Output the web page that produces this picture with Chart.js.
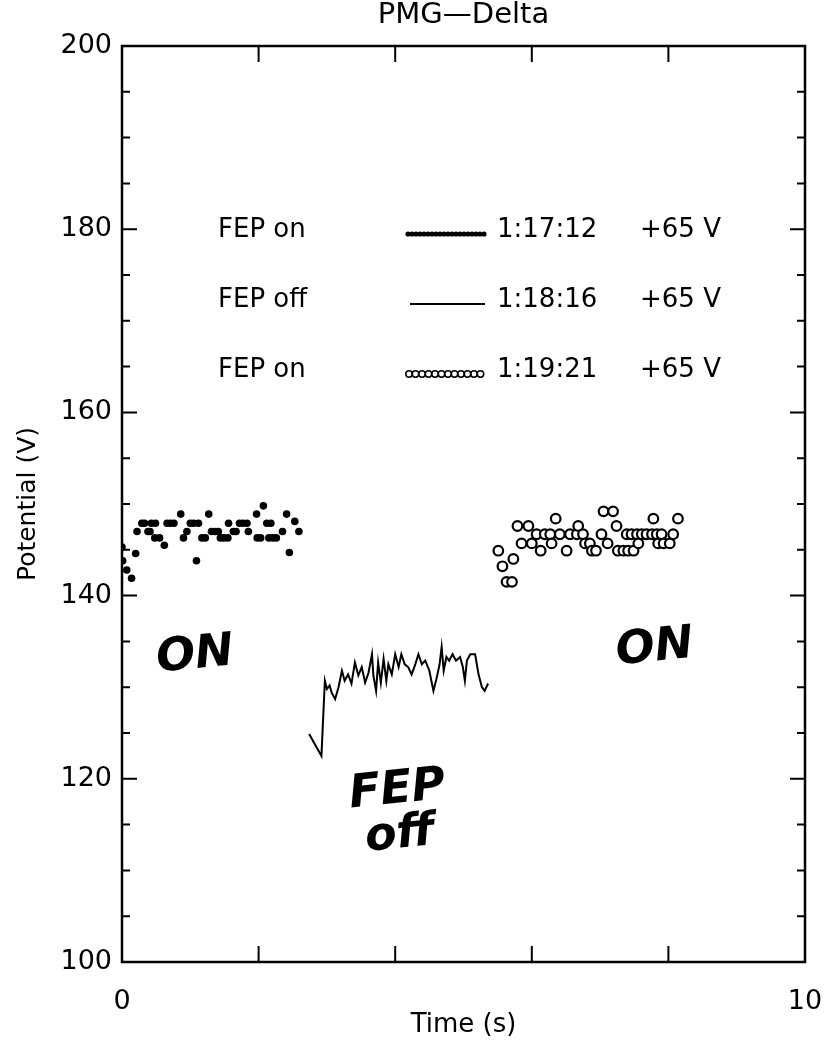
<!DOCTYPE html>
<html>
<head>
<meta charset="utf-8">
<script src="https://cdn.jsdelivr.net/npm/chart.js@4"></script>
<style>
  html, body { margin: 0; padding: 0; background: #fff; }
  canvas { display: block; }
</style>
</head>
<body>
<canvas id="pmgChart" width="825" height="1047"></canvas>
<script>
// FEP on 1:17:12 (filled dots)
const onTimeA = [0.00, 0.01, 0.07, 0.14, 0.20, 0.22, 0.29, 0.33, 0.38, 0.41, 0.43, 0.49, 0.48, 0.55, 0.62,
  0.66, 0.71, 0.76, 0.86, 0.90, 0.95, 1.00, 1.05, 1.12, 1.09, 1.17, 1.22, 1.27, 1.31, 1.36, 1.41,
  1.44, 1.49, 1.55, 1.56, 1.63, 1.67, 1.72, 1.77, 1.83, 1.85, 1.97, 1.98, 2.03, 2.07, 2.12, 2.18,
  2.15, 2.21, 2.26, 2.35, 2.41, 2.45, 2.53, 2.59];
const onVoltA = [145.3, 143.8, 142.8, 141.9, 144.6, 147.0, 147.9, 147.9, 147.0, 147.0, 147.9, 147.9, 146.3, 146.3, 145.5,
  147.9, 147.9, 147.9, 148.9, 146.3, 147.0, 147.9, 147.9, 147.9, 143.8, 146.3, 146.3, 148.9, 147.0, 147.0, 147.0,
  146.3, 146.3, 146.3, 147.9, 147.0, 147.0, 147.9, 147.9, 147.9, 147.0, 148.9, 146.3, 146.3, 149.8, 147.9, 147.9,
  146.3, 146.3, 146.3, 147.0, 148.9, 144.7, 148.1, 147.0];

// FEP off 1:18:16 (line)
const offTime = [2.74, 2.92, 2.97, 3.00, 3.04, 3.07, 3.12, 3.17, 3.22, 3.26, 3.31, 3.36, 3.41, 3.46, 3.51,
  3.56, 3.61, 3.66, 3.68, 3.72, 3.75, 3.79, 3.83, 3.87, 3.90, 3.95, 4.00, 4.05, 4.09, 4.14, 4.19,
  4.24, 4.29, 4.34, 4.39, 4.44, 4.50, 4.56, 4.61, 4.65, 4.68, 4.71, 4.75, 4.79, 4.84, 4.89, 4.95,
  4.99, 5.02, 5.05, 5.10, 5.17, 5.22, 5.27, 5.31, 5.36];
const offVolt = [124.9, 122.5, 130.7, 129.8, 130.2, 129.4, 128.7, 130.0, 131.8, 130.7, 131.4, 130.4, 132.7, 131.3, 132.2,
  130.5, 131.6, 133.6, 131.3, 129.6, 132.7, 130.5, 133.1, 130.7, 132.5, 131.4, 133.6, 132.2, 133.6, 132.5, 132.2,
  131.4, 132.4, 133.6, 132.5, 132.9, 131.8, 129.6, 131.1, 132.5, 134.4, 131.8, 133.3, 132.9, 133.6, 132.9, 133.3,
  132.2, 130.7, 132.9, 133.6, 133.6, 131.4, 130.0, 129.6, 130.4];

// FEP on 1:19:21 (open circles)
const onTimeB = [5.51, 5.57, 5.63, 5.71, 5.73, 5.79, 5.85, 5.95, 6.00, 6.07, 6.13, 6.19, 6.27, 6.29, 6.35,
  6.41, 6.51, 6.56, 6.66, 6.68, 6.75, 6.78, 6.85, 6.88, 6.94, 7.02, 7.05, 7.11, 7.19, 7.24, 7.26,
  7.34, 7.39, 7.41, 7.46, 7.49, 7.54, 7.56, 7.61, 7.68, 7.76, 7.78, 7.83, 7.85, 7.90, 7.93, 8.02,
  8.07, 8.14];
const onVoltB = [144.9, 143.2, 141.5, 141.5, 144.0, 147.6, 145.7, 147.6, 145.7, 146.7, 144.9, 146.7, 146.7, 145.7, 148.4,
  146.7, 144.9, 146.7, 146.7, 147.6, 146.7, 145.7, 145.7, 144.9, 144.9, 146.7, 149.2, 145.7, 149.2, 147.6, 144.9,
  144.9, 146.7, 144.9, 146.7, 144.9, 146.7, 145.7, 146.7, 146.7, 146.7, 148.4, 146.7, 145.7, 146.7, 145.7, 145.7,
  146.7, 148.4];

const xTicks = [0, 2, 4, 6, 8, 10];
const xTickLabels = ['0', '', '', '', '', '10'];
const yTicks = [100, 120, 140, 160, 180, 200];

const legendNames = ['FEP on', 'FEP off', 'FEP on'];
const legendTimes = ['1:17:12', '1:18:16', '1:19:21'];
const legendVolts = ['+65 V', '+65 V', '+65 V'];

// handwritten notes on the scan
const noteText = ['ON', 'FEP', 'off', 'ON'];
const noteAt = [[1.07, 133.4], [4.03, 118.7], [4.07, 113.8], [7.8, 134.2]];

const FONT = '"DejaVu Sans", "Liberation Sans", sans-serif';

const toPoints = (xs, ys) => xs.map((x, i) => ({ x: x, y: ys[i] }));

const frameTicks = {
  id: 'frameTicks',
  afterDatasetsDraw(chart) {
    const { ctx, chartArea: a, scales } = chart;
    ctx.save();
    ctx.strokeStyle = '#000';
    ctx.lineWidth = 2.5;
    ctx.strokeRect(a.left, a.top, a.right - a.left, a.bottom - a.top);
    ctx.lineWidth = 2;
    ctx.beginPath();
    xTicks.slice(1, -1).forEach(t => {
      const px = scales.x.getPixelForValue(t);
      ctx.moveTo(px, a.top); ctx.lineTo(px, a.top + 16);
      ctx.moveTo(px, a.bottom); ctx.lineTo(px, a.bottom - 16);
    });
    for (let v = 105; v < 200; v += 5) {
      const py = scales.y.getPixelForValue(v);
      const len = v % 20 === 0 ? 15 : 8;
      ctx.moveTo(a.left, py); ctx.lineTo(a.left + len, py);
      ctx.moveTo(a.right, py); ctx.lineTo(a.right - len, py);
    }
    ctx.stroke();
    ctx.restore();
  }
};

const textBits = {
  id: 'textBits',
  afterDraw(chart) {
    const { ctx, chartArea: a, scales } = chart;
    ctx.save();
    ctx.fillStyle = '#000';
    ctx.strokeStyle = '#000';

    // title
    ctx.font = '29px ' + FONT;
    ctx.textAlign = 'center';
    ctx.textBaseline = 'middle';
    ctx.fillText('PMG\u2014Delta', (a.left + a.right) / 2, 15);

    // legend block
    ctx.font = '26px ' + FONT;
    ctx.textAlign = 'left';
    const rowY = [a.top + 184, a.top + 254, a.top + 324];
    legendNames.forEach((name, i) => {
      const y = rowY[i];
      ctx.fillText(name, 218, y);
      ctx.fillText(legendTimes[i], 497, y);
      ctx.fillText(legendVolts[i], 640, y);
      const ly = y + 4;
      if (i === 0) {
        for (let x = 408; x <= 484; x += 4) {
          ctx.beginPath(); ctx.arc(x, ly, 2.6, 0, Math.PI * 2); ctx.fill();
        }
      } else if (i === 1) {
        ctx.lineWidth = 1.8;
        ctx.beginPath(); ctx.moveTo(410, ly); ctx.lineTo(485, ly); ctx.stroke();
      } else {
        ctx.lineWidth = 1.5;
        for (let x = 409; x <= 483; x += 6.5) {
          ctx.beginPath(); ctx.arc(x, ly, 3.2, 0, Math.PI * 2); ctx.stroke();
        }
      }
    });

    // handwritten notes
    ctx.font = 'bold italic 46px "DejaVu Sans", sans-serif';
    ctx.textAlign = 'center';
    noteText.forEach((t, i) => {
      const px = scales.x.getPixelForValue(noteAt[i][0]);
      const py = scales.y.getPixelForValue(noteAt[i][1]);
      ctx.save();
      ctx.translate(px, py);
      ctx.rotate(-0.1);
      ctx.fillText(t, 0, 0);
      ctx.restore();
    });
    ctx.restore();
  }
};

new Chart(document.getElementById('pmgChart').getContext('2d'), {
  type: 'scatter',
  data: {
    datasets: [
      {
        label: 'FEP on 1:17:12',
        data: toPoints(onTimeA, onVoltA),
        showLine: false,
        pointStyle: 'circle',
        pointRadius: 3.8,
        backgroundColor: '#000',
        borderColor: '#000',
        borderWidth: 0
      },
      {
        label: 'FEP off 1:18:16',
        data: toPoints(offTime, offVolt),
        showLine: true,
        pointRadius: 0,
        borderColor: '#000',
        borderWidth: 2,
        tension: 0
      },
      {
        label: 'FEP on 1:19:21',
        data: toPoints(onTimeB, onVoltB),
        showLine: false,
        pointStyle: 'circle',
        pointRadius: 4.8,
        backgroundColor: '#fff',
        borderColor: '#000',
        borderWidth: 2.2
      }
    ]
  },
  options: {
    responsive: false,
    animation: false,
    layout: { padding: { top: 46, left: 10, right: 0, bottom: 4 } },
    plugins: {
      legend: { display: false },
      tooltip: { enabled: false },
      title: { display: false }
    },
    scales: {
      x: {
        type: 'linear',
        min: 0,
        max: 10,
        afterFit(s) {
          s.height = 81;
          // keep the plot frame at the same right edge as the scan
          s.paddingLeft = 0;
          s.paddingRight = 20;
        },
        grid: { display: false, drawTicks: false, tickLength: 0 },
        border: { display: false },
        ticks: {
          stepSize: 2,
          autoSkip: false,
          maxRotation: 0,
          padding: 24,
          color: '#000',
          font: { family: FONT, size: 27 },
          callback: (v) => xTickLabels[xTicks.indexOf(v)] ?? ''
        },
        title: {
          display: true,
          text: 'Time (s)',
          color: '#000',
          font: { family: FONT, size: 26 },
          padding: { top: 2, bottom: 2 }
        }
      },
      y: {
        type: 'linear',
        min: 100,
        max: 200,
        afterFit(s) { s.width = 112; },
        grid: { display: false, drawTicks: false, tickLength: 0 },
        border: { display: false },
        ticks: {
          stepSize: 20,
          padding: 10,
          color: '#000',
          font: { family: FONT, size: 27 },
          callback: (v) => yTicks.includes(v) ? String(v) : ''
        },
        title: {
          display: true,
          text: 'Potential (V)',
          color: '#000',
          font: { family: FONT, size: 25 },
          padding: { top: 3, bottom: 2 }
        }
      }
    }
  },
  plugins: [frameTicks, textBits]
});
</script>
</body>
</html>
